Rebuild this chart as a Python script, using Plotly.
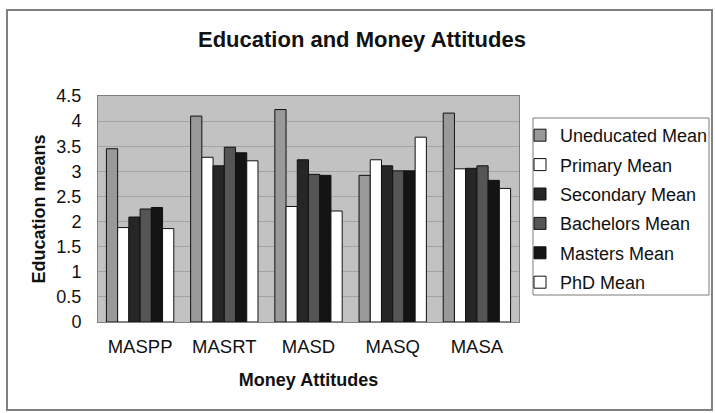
import plotly.graph_objects as go

categories = ["MASPP", "MASRT", "MASD", "MASQ", "MASA"]
series_names = ["Uneducated Mean", "Primary Mean", "Secondary Mean",
                "Bachelors Mean", "Masters Mean", "PhD Mean"]
uneducated = [3.45, 4.10, 4.23, 2.92, 4.16]
primary = [1.88, 3.28, 2.30, 3.23, 3.05]
secondary = [2.09, 3.11, 3.23, 3.11, 3.06]
bachelors = [2.25, 3.48, 2.94, 3.01, 3.11]
masters = [2.28, 3.37, 2.92, 3.01, 2.82]
phd = [1.86, 3.21, 2.21, 3.68, 2.66]
y_ticks = [0, 0.5, 1, 1.5, 2, 2.5, 3, 3.5, 4, 4.5]
y_tick_labels = ["0", "0.5", "1", "1.5", "2", "2.5", "3", "3.5", "4", "4.5"]

values = [uneducated, primary, secondary, bachelors, masters, phd]
colors = ["#999999", "#ffffff", "#262626", "#555555", "#141414", "#ffffff"]

FONT = "Liberation Sans, Arial, sans-serif"

fig = go.Figure()
for i, (name, vals, col) in enumerate(zip(series_names, values, colors)):
    fig.add_trace(go.Bar(
        x=categories, y=vals, name=name, legendgroup=str(i),
        marker=dict(color=col, line=dict(color="#111111", width=1)),
    ))

L, R, T, B = 98, 196, 96, 91
W, H = 715, 413
pw, ph = W - L - R, H - T - B

def px_x(x):
    return (x - L) / pw

def px_y(y):
    return (H - B - y) / ph

fig.update_layout(
    width=W, height=H,
    margin=dict(l=L, r=R, t=T, b=B, autoexpand=False),
    paper_bgcolor="white",
    plot_bgcolor="#c2c2c2",
    barmode="group",
    bargap=0.2,
    bargroupgap=0,
    font=dict(family=FONT, color="#111111"),
    title=dict(text="<b>Education and Money Attitudes</b>",
               font=dict(size=22, family=FONT, color="#111111"),
               x=362 / W, xanchor="center",
               y=1 - 39 / H, yanchor="middle"),
    xaxis=dict(
        title=dict(text="<b>Money Attitudes</b>", font=dict(size=18, family=FONT), standoff=17),
        tickfont=dict(size=18.5, family=FONT),
        ticklabelstandoff=8,
        showline=True, linecolor="#808080", mirror=True,
        ticks="", showgrid=False,
    ),
    yaxis=dict(
        title=dict(text="<b>Education means</b>", font=dict(size=18, family=FONT), standoff=6),
        range=[0, 4.5],
        tickvals=y_ticks, ticktext=y_tick_labels,
        tickfont=dict(size=18, family=FONT),
        ticklabelstandoff=12,
        showgrid=True, gridcolor="#a3a3a3", gridwidth=1,
        showline=True, linecolor="#808080", mirror=True,
        ticks="", zeroline=False,
    ),
    legend=dict(
        x=px_x(520), y=px_y(117), xanchor="left", yanchor="top",
        borderwidth=0, bgcolor="rgba(0,0,0,0)",
        font=dict(size=18, family=FONT, color="#111111"),
        traceorder="grouped", tracegroupgap=3,
        itemwidth=30,
    ),
    shapes=[
        dict(type="rect", xref="paper", yref="paper",
             x0=px_x(7), x1=px_x(712), y0=px_y(410), y1=px_y(10),
             line=dict(color="#808080", width=2), fillcolor="rgba(0,0,0,0)",
             layer="below"),
        dict(type="rect", xref="paper", yref="paper",
             x0=px_x(533), x1=px_x(709), y0=px_y(295), y1=px_y(118),
             line=dict(color="#7a7a7a", width=1), fillcolor="white",
             layer="above"),
    ],
)

fig.write_html("out.html")
